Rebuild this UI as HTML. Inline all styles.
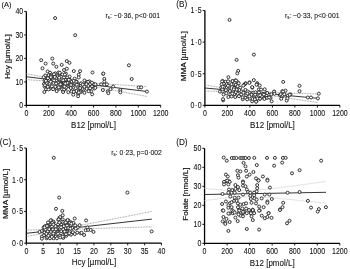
<!DOCTYPE html>
<html><head><meta charset="utf-8"><style>
html,body{margin:0;padding:0;background:#fff;width:350px;height:269px;overflow:hidden}
svg{display:block;will-change:transform}
text{font-family:"Liberation Sans", sans-serif;fill:#111;stroke:#111;stroke-width:0.08px}
</style></head><body>
<svg width="350" height="269" viewBox="0 0 350 269">
<path d="M26.35 11.45V105.4H160.7" fill="none" stroke="#000" stroke-width="1.3"/>
<path d="M24.150000000000002 105.40H26.35" stroke="#000" stroke-width="0.9"/>
<text transform="translate(23.15 108.30) scale(1 1.18)" font-size="7" text-anchor="end">0</text>
<path d="M24.150000000000002 81.91H26.35" stroke="#000" stroke-width="0.9"/>
<text transform="translate(23.15 84.81) scale(1 1.18)" font-size="7" text-anchor="end">10</text>
<path d="M24.150000000000002 58.43H26.35" stroke="#000" stroke-width="0.9"/>
<text transform="translate(23.15 61.33) scale(1 1.18)" font-size="7" text-anchor="end">20</text>
<path d="M24.150000000000002 34.94H26.35" stroke="#000" stroke-width="0.9"/>
<text transform="translate(23.15 37.84) scale(1 1.18)" font-size="7" text-anchor="end">30</text>
<path d="M24.150000000000002 11.45H26.35" stroke="#000" stroke-width="0.9"/>
<text transform="translate(23.15 14.35) scale(1 1.18)" font-size="7" text-anchor="end">40</text>
<path d="M26.35 105.4V107.60000000000001" stroke="#000" stroke-width="0.9"/>
<text transform="translate(26.35 115.90) scale(1 1.18)" font-size="7" text-anchor="middle">0</text>
<path d="M48.74 105.4V107.60000000000001" stroke="#000" stroke-width="0.9"/>
<text transform="translate(48.74 115.90) scale(1 1.18)" font-size="7" text-anchor="middle">200</text>
<path d="M71.13 105.4V107.60000000000001" stroke="#000" stroke-width="0.9"/>
<text transform="translate(71.13 115.90) scale(1 1.18)" font-size="7" text-anchor="middle">400</text>
<path d="M93.53 105.4V107.60000000000001" stroke="#000" stroke-width="0.9"/>
<text transform="translate(93.53 115.90) scale(1 1.18)" font-size="7" text-anchor="middle">600</text>
<path d="M115.92 105.4V107.60000000000001" stroke="#000" stroke-width="0.9"/>
<text transform="translate(115.92 115.90) scale(1 1.18)" font-size="7" text-anchor="middle">800</text>
<path d="M138.31 105.4V107.60000000000001" stroke="#000" stroke-width="0.9"/>
<text transform="translate(138.31 115.90) scale(1 1.18)" font-size="7" text-anchor="middle">1000</text>
<path d="M160.70 105.4V107.60000000000001" stroke="#000" stroke-width="0.9"/>
<text transform="translate(160.70 115.90) scale(1 1.18)" font-size="7" text-anchor="middle">1200</text>
<text transform="translate(93.52 127.70) scale(1 1.2)" font-size="8" text-anchor="middle">B12 [pmol/L]</text>
<text transform="translate(10.25 56.73) rotate(-90) scale(1.19 1)" font-size="6.75" text-anchor="middle" style="stroke-width:0.16px">Hcy [µmol/L]</text>
<text transform="translate(1.60 7.00) scale(1 1.0)" font-size="7.5">(A)</text>
<path d="M204.9 10.5V105.35H339.9" fill="none" stroke="#000" stroke-width="1.3"/>
<path d="M202.70000000000002 105.35H204.9" stroke="#000" stroke-width="0.9"/>
<text transform="translate(201.70 108.25) scale(1 1.18)" font-size="7" text-anchor="end">0<tspan dx="0.5">·</tspan><tspan dx="0.5">0</tspan></text>
<path d="M202.70000000000002 73.73H204.9" stroke="#000" stroke-width="0.9"/>
<text transform="translate(201.70 76.63) scale(1 1.18)" font-size="7" text-anchor="end">0<tspan dx="0.5">·</tspan><tspan dx="0.5">5</tspan></text>
<path d="M202.70000000000002 42.12H204.9" stroke="#000" stroke-width="0.9"/>
<text transform="translate(201.70 45.02) scale(1 1.18)" font-size="7" text-anchor="end">1<tspan dx="0.5">·</tspan><tspan dx="0.5">0</tspan></text>
<path d="M202.70000000000002 10.50H204.9" stroke="#000" stroke-width="0.9"/>
<text transform="translate(201.70 13.40) scale(1 1.18)" font-size="7" text-anchor="end">1<tspan dx="0.5">·</tspan><tspan dx="0.5">5</tspan></text>
<path d="M204.90 105.35V107.55" stroke="#000" stroke-width="0.9"/>
<text transform="translate(204.90 115.85) scale(1 1.18)" font-size="7" text-anchor="middle">0</text>
<path d="M227.40 105.35V107.55" stroke="#000" stroke-width="0.9"/>
<text transform="translate(227.40 115.85) scale(1 1.18)" font-size="7" text-anchor="middle">200</text>
<path d="M249.90 105.35V107.55" stroke="#000" stroke-width="0.9"/>
<text transform="translate(249.90 115.85) scale(1 1.18)" font-size="7" text-anchor="middle">400</text>
<path d="M272.40 105.35V107.55" stroke="#000" stroke-width="0.9"/>
<text transform="translate(272.40 115.85) scale(1 1.18)" font-size="7" text-anchor="middle">600</text>
<path d="M294.90 105.35V107.55" stroke="#000" stroke-width="0.9"/>
<text transform="translate(294.90 115.85) scale(1 1.18)" font-size="7" text-anchor="middle">800</text>
<path d="M317.40 105.35V107.55" stroke="#000" stroke-width="0.9"/>
<text transform="translate(317.40 115.85) scale(1 1.18)" font-size="7" text-anchor="middle">1000</text>
<path d="M339.90 105.35V107.55" stroke="#000" stroke-width="0.9"/>
<text transform="translate(339.90 115.85) scale(1 1.18)" font-size="7" text-anchor="middle">1200</text>
<text transform="translate(272.40 127.65) scale(1 1.2)" font-size="8" text-anchor="middle">B12 [pmol/L]</text>
<text transform="translate(186.30 56.22) rotate(-90) scale(1.215 1)" font-size="6.75" text-anchor="middle" style="stroke-width:0.16px">MMA [µmol/L]</text>
<text transform="translate(176.20 6.90) scale(1 1.0)" font-size="8.2">(B)</text>
<path d="M26.35 148.0V243.15H161.5" fill="none" stroke="#000" stroke-width="1.3"/>
<path d="M24.150000000000002 243.15H26.35" stroke="#000" stroke-width="0.9"/>
<text transform="translate(23.15 246.05) scale(1 1.18)" font-size="7" text-anchor="end">0<tspan dx="0.5">·</tspan><tspan dx="0.5">0</tspan></text>
<path d="M24.150000000000002 211.43H26.35" stroke="#000" stroke-width="0.9"/>
<text transform="translate(23.15 214.33) scale(1 1.18)" font-size="7" text-anchor="end">0<tspan dx="0.5">·</tspan><tspan dx="0.5">5</tspan></text>
<path d="M24.150000000000002 179.72H26.35" stroke="#000" stroke-width="0.9"/>
<text transform="translate(23.15 182.62) scale(1 1.18)" font-size="7" text-anchor="end">1<tspan dx="0.5">·</tspan><tspan dx="0.5">0</tspan></text>
<path d="M24.150000000000002 148.00H26.35" stroke="#000" stroke-width="0.9"/>
<text transform="translate(23.15 150.90) scale(1 1.18)" font-size="7" text-anchor="end">1<tspan dx="0.5">·</tspan><tspan dx="0.5">5</tspan></text>
<path d="M26.35 243.15V245.35" stroke="#000" stroke-width="0.9"/>
<text transform="translate(26.35 253.65) scale(1 1.18)" font-size="7" text-anchor="middle">0</text>
<path d="M43.24 243.15V245.35" stroke="#000" stroke-width="0.9"/>
<text transform="translate(43.24 253.65) scale(1 1.18)" font-size="7" text-anchor="middle">5</text>
<path d="M60.14 243.15V245.35" stroke="#000" stroke-width="0.9"/>
<text transform="translate(60.14 253.65) scale(1 1.18)" font-size="7" text-anchor="middle">10</text>
<path d="M77.03 243.15V245.35" stroke="#000" stroke-width="0.9"/>
<text transform="translate(77.03 253.65) scale(1 1.18)" font-size="7" text-anchor="middle">15</text>
<path d="M93.93 243.15V245.35" stroke="#000" stroke-width="0.9"/>
<text transform="translate(93.93 253.65) scale(1 1.18)" font-size="7" text-anchor="middle">20</text>
<path d="M110.82 243.15V245.35" stroke="#000" stroke-width="0.9"/>
<text transform="translate(110.82 253.65) scale(1 1.18)" font-size="7" text-anchor="middle">25</text>
<path d="M127.71 243.15V245.35" stroke="#000" stroke-width="0.9"/>
<text transform="translate(127.71 253.65) scale(1 1.18)" font-size="7" text-anchor="middle">30</text>
<path d="M144.61 243.15V245.35" stroke="#000" stroke-width="0.9"/>
<text transform="translate(144.61 253.65) scale(1 1.18)" font-size="7" text-anchor="middle">35</text>
<path d="M161.50 243.15V245.35" stroke="#000" stroke-width="0.9"/>
<text transform="translate(161.50 253.65) scale(1 1.18)" font-size="7" text-anchor="middle">40</text>
<text transform="translate(93.92 265.45) scale(1 1.2)" font-size="8" text-anchor="middle">Hcy [µmol/L]</text>
<text transform="translate(7.75 193.88) rotate(-90) scale(1.215 1)" font-size="6.75" text-anchor="middle" style="stroke-width:0.16px">MMA [µmol/L]</text>
<text transform="translate(-0.20 144.60) scale(1 1.0)" font-size="8.2">(C)</text>
<path d="M204.55 148.35V243.35H339.8" fill="none" stroke="#000" stroke-width="1.3"/>
<path d="M202.35000000000002 243.35H204.55" stroke="#000" stroke-width="0.9"/>
<text transform="translate(201.35 246.25) scale(1 1.18)" font-size="7" text-anchor="end">0</text>
<path d="M202.35000000000002 224.35H204.55" stroke="#000" stroke-width="0.9"/>
<text transform="translate(201.35 227.25) scale(1 1.18)" font-size="7" text-anchor="end">10</text>
<path d="M202.35000000000002 205.35H204.55" stroke="#000" stroke-width="0.9"/>
<text transform="translate(201.35 208.25) scale(1 1.18)" font-size="7" text-anchor="end">20</text>
<path d="M202.35000000000002 186.35H204.55" stroke="#000" stroke-width="0.9"/>
<text transform="translate(201.35 189.25) scale(1 1.18)" font-size="7" text-anchor="end">30</text>
<path d="M202.35000000000002 167.35H204.55" stroke="#000" stroke-width="0.9"/>
<text transform="translate(201.35 170.25) scale(1 1.18)" font-size="7" text-anchor="end">40</text>
<path d="M202.35000000000002 148.35H204.55" stroke="#000" stroke-width="0.9"/>
<text transform="translate(201.35 151.25) scale(1 1.18)" font-size="7" text-anchor="end">50</text>
<path d="M204.55 243.35V245.54999999999998" stroke="#000" stroke-width="0.9"/>
<text transform="translate(204.55 253.85) scale(1 1.18)" font-size="7" text-anchor="middle">0</text>
<path d="M227.09 243.35V245.54999999999998" stroke="#000" stroke-width="0.9"/>
<text transform="translate(227.09 253.85) scale(1 1.18)" font-size="7" text-anchor="middle">200</text>
<path d="M249.63 243.35V245.54999999999998" stroke="#000" stroke-width="0.9"/>
<text transform="translate(249.63 253.85) scale(1 1.18)" font-size="7" text-anchor="middle">400</text>
<path d="M272.18 243.35V245.54999999999998" stroke="#000" stroke-width="0.9"/>
<text transform="translate(272.18 253.85) scale(1 1.18)" font-size="7" text-anchor="middle">600</text>
<path d="M294.72 243.35V245.54999999999998" stroke="#000" stroke-width="0.9"/>
<text transform="translate(294.72 253.85) scale(1 1.18)" font-size="7" text-anchor="middle">800</text>
<path d="M317.26 243.35V245.54999999999998" stroke="#000" stroke-width="0.9"/>
<text transform="translate(317.26 253.85) scale(1 1.18)" font-size="7" text-anchor="middle">1000</text>
<path d="M339.80 243.35V245.54999999999998" stroke="#000" stroke-width="0.9"/>
<text transform="translate(339.80 253.85) scale(1 1.18)" font-size="7" text-anchor="middle">1200</text>
<text transform="translate(272.18 265.65) scale(1 1.2)" font-size="8" text-anchor="middle">B12 [pmol/L]</text>
<text transform="translate(188.45 194.15) rotate(-90) scale(1.19 1)" font-size="6.75" text-anchor="middle" style="stroke-width:0.16px">Folate [nmol/L]</text>
<text transform="translate(176.20 144.60) scale(1 1.0)" font-size="8.2">(D)</text>
<g transform="translate(105.6 17.9) scale(1 1.12)"><text font-size="6.8">r<tspan font-size="4.2" dy="0.9">s</tspan><tspan dy="-0.9">: −0<tspan opacity="0.45">·</tspan>36, p&lt;0<tspan opacity="0.45">·</tspan>001</tspan></text></g>
<g transform="translate(284.9 17.7) scale(1 1.12)"><text font-size="6.8">r<tspan font-size="4.2" dy="0.9">s</tspan><tspan dy="-0.9">: −0<tspan opacity="0.45">·</tspan>33, p&lt;0<tspan opacity="0.45">·</tspan>001</tspan></text></g>
<g transform="translate(111.3 155.0) scale(1 1.12)"><text font-size="6.8">r<tspan font-size="4.2" dy="0.9">s</tspan><tspan dy="-0.9">: 0<tspan opacity="0.45">·</tspan>23, p=0<tspan opacity="0.45">·</tspan>002</tspan></text></g>
<path d="M26.20 73.75 L29.22 74.30 L32.24 74.84 L35.26 75.38 L38.28 75.91 L41.30 76.44 L44.32 76.97 L47.34 77.49 L50.36 78.00 L53.38 78.50 L56.40 78.99 L59.42 79.47 L62.44 79.92 L65.46 80.35 L68.48 80.75 L71.50 81.12 L74.52 81.46 L77.54 81.77 L80.56 82.06 L83.58 82.33 L86.60 82.58 L89.62 82.81 L92.64 83.04 L95.66 83.26 L98.68 83.47 L101.70 83.68 L104.72 83.89 L107.74 84.09 L110.76 84.29 L113.78 84.49 L116.80 84.68 L119.82 84.88 L122.84 85.07 L125.86 85.26 L128.88 85.45 L131.90 85.64 L134.92 85.83 L137.94 86.02 L140.96 86.21 L143.98 86.40 L147.00 86.58" fill="none" stroke="#808080" stroke-width="0.75" stroke-dasharray="0.9 0.7"/>
<path d="M26.20 79.65 L29.22 79.84 L32.24 80.04 L35.26 80.24 L38.28 80.45 L41.30 80.66 L44.32 80.87 L47.34 81.09 L50.36 81.32 L53.38 81.56 L56.40 81.81 L59.42 82.07 L62.44 82.36 L65.46 82.67 L68.48 83.01 L71.50 83.38 L74.52 83.78 L77.54 84.21 L80.56 84.66 L83.58 85.13 L86.60 85.62 L89.62 86.13 L92.64 86.64 L95.66 87.16 L98.68 87.69 L101.70 88.22 L104.72 88.75 L107.74 89.29 L110.76 89.83 L113.78 90.37 L116.80 90.92 L119.82 91.46 L122.84 92.01 L125.86 92.56 L128.88 93.11 L131.90 93.66 L134.92 94.21 L137.94 94.76 L140.96 95.31 L143.98 95.86 L147.00 96.42" fill="none" stroke="#808080" stroke-width="0.75" stroke-dasharray="0.9 0.7"/>
<path d="M26.2 76.7L147.0 91.5" stroke="#2a2a2a" stroke-width="0.95" fill="none"/>
<path d="M204.90 85.04 L207.73 85.46 L210.56 85.88 L213.38 86.30 L216.21 86.71 L219.04 87.13 L221.87 87.54 L224.69 87.94 L227.52 88.35 L230.35 88.74 L233.18 89.13 L236.00 89.51 L238.83 89.87 L241.66 90.22 L244.49 90.55 L247.31 90.85 L250.14 91.12 L252.97 91.36 L255.80 91.57 L258.62 91.76 L261.45 91.92 L264.28 92.07 L267.11 92.21 L269.93 92.33 L272.76 92.45 L275.59 92.57 L278.42 92.67 L281.24 92.78 L284.07 92.88 L286.90 92.98 L289.73 93.07 L292.55 93.17 L295.38 93.26 L298.21 93.35 L301.03 93.44 L303.86 93.53 L306.69 93.62 L309.52 93.71 L312.35 93.80 L315.17 93.89 L318.00 93.98" fill="none" stroke="#808080" stroke-width="0.75" stroke-dasharray="0.9 0.7"/>
<path d="M204.90 90.96 L207.73 91.06 L210.56 91.15 L213.38 91.25 L216.21 91.35 L219.04 91.45 L221.87 91.55 L224.69 91.66 L227.52 91.77 L230.35 91.89 L233.18 92.02 L236.00 92.16 L238.83 92.31 L241.66 92.47 L244.49 92.66 L247.31 92.88 L250.14 93.12 L252.97 93.39 L255.80 93.70 L258.62 94.03 L261.45 94.38 L264.28 94.74 L267.11 95.12 L269.93 95.51 L272.76 95.91 L275.59 96.31 L278.42 96.72 L281.24 97.13 L284.07 97.54 L286.90 97.96 L289.73 98.38 L292.55 98.80 L295.38 99.22 L298.21 99.64 L301.03 100.07 L303.86 100.49 L306.69 100.92 L309.52 101.34 L312.35 101.77 L315.17 102.20 L318.00 102.62" fill="none" stroke="#808080" stroke-width="0.75" stroke-dasharray="0.9 0.7"/>
<path d="M204.9 88.0L318.0 98.3" stroke="#2a2a2a" stroke-width="0.95" fill="none"/>
<path d="M26.50 230.08 L29.64 229.97 L32.77 229.86 L35.91 229.75 L39.04 229.63 L42.17 229.51 L45.31 229.37 L48.45 229.22 L51.58 229.05 L54.72 228.84 L57.85 228.60 L60.98 228.30 L64.12 227.94 L67.25 227.51 L70.39 227.04 L73.53 226.52 L76.66 225.98 L79.80 225.42 L82.93 224.84 L86.06 224.25 L89.20 223.66 L92.34 223.06 L95.47 222.46 L98.61 221.86 L101.74 221.25 L104.88 220.64 L108.01 220.03 L111.15 219.42 L114.28 218.81 L117.42 218.19 L120.55 217.58 L123.69 216.96 L126.82 216.35 L129.95 215.73 L133.09 215.12 L136.22 214.50 L139.36 213.88 L142.50 213.26 L145.63 212.65 L148.77 212.03 L151.90 211.41" fill="none" stroke="#808080" stroke-width="0.75" stroke-dasharray="0.9 0.7"/>
<path d="M26.50 236.52 L29.64 235.92 L32.77 235.32 L35.91 234.72 L39.04 234.13 L42.17 233.54 L45.31 232.97 L48.45 232.41 L51.58 231.87 L54.72 231.37 L57.85 230.90 L60.98 230.49 L64.12 230.14 L67.25 229.86 L70.39 229.62 L73.53 229.43 L76.66 229.26 L79.80 229.11 L82.93 228.98 L86.06 228.86 L89.20 228.74 L92.34 228.63 L95.47 228.52 L98.61 228.41 L101.74 228.31 L104.88 228.21 L108.01 228.11 L111.15 228.01 L114.28 227.91 L117.42 227.82 L120.55 227.72 L123.69 227.63 L126.82 227.53 L129.95 227.44 L133.09 227.34 L136.22 227.25 L139.36 227.16 L142.50 227.07 L145.63 226.97 L148.77 226.88 L151.90 226.79" fill="none" stroke="#808080" stroke-width="0.75" stroke-dasharray="0.9 0.7"/>
<path d="M26.5 233.3L151.9 219.1" stroke="#2a2a2a" stroke-width="0.95" fill="none"/>
<path d="M204.60 188.45 L207.63 188.73 L210.67 189.00 L213.70 189.26 L216.74 189.51 L219.78 189.75 L222.81 189.97 L225.84 190.17 L228.88 190.34 L231.91 190.49 L234.95 190.61 L237.99 190.68 L241.02 190.72 L244.06 190.70 L247.09 190.64 L250.12 190.52 L253.16 190.36 L256.19 190.16 L259.23 189.92 L262.26 189.65 L265.30 189.36 L268.33 189.04 L271.37 188.70 L274.40 188.35 L277.44 187.99 L280.48 187.61 L283.51 187.23 L286.55 186.84 L289.58 186.44 L292.62 186.04 L295.65 185.64 L298.69 185.23 L301.72 184.81 L304.75 184.40 L307.79 183.98 L310.82 183.56 L313.86 183.13 L316.89 182.71 L319.93 182.28 L322.97 181.85 L326.00 181.42" fill="none" stroke="#d8d8d8" stroke-width="0.75"/>
<path d="M204.60 200.55 L207.63 200.16 L210.67 199.78 L213.70 199.41 L216.74 199.05 L219.78 198.70 L222.81 198.37 L225.84 198.06 L228.88 197.78 L231.91 197.52 L234.95 197.29 L237.99 197.11 L241.02 196.96 L244.06 196.87 L247.09 196.82 L250.12 196.83 L253.16 196.88 L256.19 196.97 L259.23 197.10 L262.26 197.26 L265.30 197.44 L268.33 197.65 L271.37 197.88 L274.40 198.12 L277.44 198.37 L280.48 198.64 L283.51 198.91 L286.55 199.19 L289.58 199.48 L292.62 199.77 L295.65 200.06 L298.69 200.36 L301.72 200.67 L304.75 200.97 L307.79 201.28 L310.82 201.59 L313.86 201.91 L316.89 202.22 L319.93 202.54 L322.97 202.86 L326.00 203.18" fill="none" stroke="#d8d8d8" stroke-width="0.75"/>
<path d="M204.6 194.5L326.0 192.3" stroke="#2a2a2a" stroke-width="0.95" fill="none"/>
<g fill="#fff" stroke="#2a2a2a" stroke-width="0.95">
<circle cx="55.1" cy="18.1" r="1.5"/>
<circle cx="75.2" cy="35.2" r="1.5"/>
<circle cx="41.2" cy="60.2" r="1.5"/>
<circle cx="52.3" cy="58.6" r="1.5"/>
<circle cx="45.6" cy="63.6" r="1.5"/>
<circle cx="53.2" cy="63.6" r="1.5"/>
<circle cx="42.5" cy="68.3" r="1.5"/>
<circle cx="56.4" cy="66.8" r="1.5"/>
<circle cx="61.7" cy="64.9" r="1.5"/>
<circle cx="66.8" cy="61.1" r="1.5"/>
<circle cx="69.5" cy="62.8" r="1.5"/>
<circle cx="64.0" cy="70.0" r="1.5"/>
<circle cx="66.8" cy="68.7" r="1.5"/>
<circle cx="73.8" cy="71.1" r="1.5"/>
<circle cx="80.1" cy="71.2" r="1.5"/>
<circle cx="78.7" cy="74.7" r="1.5"/>
<circle cx="78.7" cy="77.4" r="1.5"/>
<circle cx="69.6" cy="76.5" r="1.5"/>
<circle cx="74.6" cy="78.7" r="1.5"/>
<circle cx="92.5" cy="72.5" r="1.5"/>
<circle cx="103.2" cy="73.7" r="1.5"/>
<circle cx="128.9" cy="65.3" r="1.5"/>
<circle cx="131.7" cy="79.0" r="1.5"/>
<circle cx="47.6" cy="71.4" r="1.5"/>
<circle cx="50.1" cy="72.8" r="1.5"/>
<circle cx="45.2" cy="75.5" r="1.5"/>
<circle cx="48.8" cy="75.2" r="1.5"/>
<circle cx="51.6" cy="74.6" r="1.5"/>
<circle cx="55.2" cy="73.4" r="1.5"/>
<circle cx="59.4" cy="73.5" r="1.5"/>
<circle cx="62.5" cy="74.5" r="1.5"/>
<circle cx="65.9" cy="73.6" r="1.5"/>
<circle cx="43.6" cy="77.2" r="1.5"/>
<circle cx="47.1" cy="78.3" r="1.5"/>
<circle cx="50.7" cy="77.5" r="1.5"/>
<circle cx="53.4" cy="76.3" r="1.5"/>
<circle cx="56.6" cy="77.4" r="1.5"/>
<circle cx="60.9" cy="76.8" r="1.5"/>
<circle cx="64.0" cy="77.3" r="1.5"/>
<circle cx="67.2" cy="77.6" r="1.5"/>
<circle cx="44.7" cy="80.3" r="1.5"/>
<circle cx="49.2" cy="80.1" r="1.5"/>
<circle cx="52.5" cy="80.2" r="1.5"/>
<circle cx="56.2" cy="80.3" r="1.5"/>
<circle cx="59.4" cy="79.4" r="1.5"/>
<circle cx="63.2" cy="80.3" r="1.5"/>
<circle cx="66.1" cy="79.7" r="1.5"/>
<circle cx="68.9" cy="80.5" r="1.5"/>
<circle cx="44.0" cy="83.9" r="1.5"/>
<circle cx="46.7" cy="82.9" r="1.5"/>
<circle cx="49.9" cy="83.7" r="1.5"/>
<circle cx="53.5" cy="82.8" r="1.5"/>
<circle cx="56.5" cy="83.9" r="1.5"/>
<circle cx="60.0" cy="82.9" r="1.5"/>
<circle cx="63.7" cy="83.5" r="1.5"/>
<circle cx="66.9" cy="83.0" r="1.5"/>
<circle cx="44.5" cy="86.5" r="1.5"/>
<circle cx="47.7" cy="86.6" r="1.5"/>
<circle cx="51.9" cy="86.3" r="1.5"/>
<circle cx="55.4" cy="86.8" r="1.5"/>
<circle cx="59.0" cy="87.3" r="1.5"/>
<circle cx="62.4" cy="85.8" r="1.5"/>
<circle cx="65.5" cy="85.7" r="1.5"/>
<circle cx="69.2" cy="86.3" r="1.5"/>
<circle cx="46.0" cy="89.3" r="1.5"/>
<circle cx="49.7" cy="88.9" r="1.5"/>
<circle cx="53.1" cy="89.2" r="1.5"/>
<circle cx="57.1" cy="89.0" r="1.5"/>
<circle cx="62.1" cy="89.2" r="1.5"/>
<circle cx="65.3" cy="89.2" r="1.5"/>
<circle cx="44.3" cy="92.0" r="1.5"/>
<circle cx="56.7" cy="91.1" r="1.5"/>
<circle cx="63.1" cy="92.0" r="1.5"/>
<circle cx="68.3" cy="92.2" r="1.5"/>
<circle cx="68.1" cy="79.9" r="1.5"/>
<circle cx="71.6" cy="81.4" r="1.5"/>
<circle cx="76.6" cy="81.6" r="1.5"/>
<circle cx="81.1" cy="83.4" r="1.5"/>
<circle cx="86.0" cy="83.6" r="1.5"/>
<circle cx="90.1" cy="84.0" r="1.5"/>
<circle cx="84.5" cy="80.5" r="1.5"/>
<circle cx="89.4" cy="81.4" r="1.5"/>
<circle cx="93.9" cy="84.1" r="1.5"/>
<circle cx="69.7" cy="85.1" r="1.5"/>
<circle cx="73.0" cy="85.2" r="1.5"/>
<circle cx="78.2" cy="84.8" r="1.5"/>
<circle cx="80.7" cy="86.2" r="1.5"/>
<circle cx="84.3" cy="86.7" r="1.5"/>
<circle cx="88.3" cy="85.8" r="1.5"/>
<circle cx="91.9" cy="86.4" r="1.5"/>
<circle cx="95.7" cy="85.4" r="1.5"/>
<circle cx="71.9" cy="89.4" r="1.5"/>
<circle cx="75.7" cy="88.2" r="1.5"/>
<circle cx="79.5" cy="88.5" r="1.5"/>
<circle cx="82.5" cy="89.4" r="1.5"/>
<circle cx="86.7" cy="88.9" r="1.5"/>
<circle cx="90.1" cy="88.2" r="1.5"/>
<circle cx="94.3" cy="88.5" r="1.5"/>
<circle cx="76.6" cy="91.5" r="1.5"/>
<circle cx="83.4" cy="91.4" r="1.5"/>
<circle cx="91.2" cy="91.4" r="1.5"/>
<circle cx="71.6" cy="91.4" r="1.5"/>
<circle cx="73.3" cy="94.7" r="1.5"/>
<circle cx="78.1" cy="93.8" r="1.5"/>
<circle cx="78.1" cy="96.2" r="1.5"/>
<circle cx="84.4" cy="92.8" r="1.5"/>
<circle cx="88.6" cy="91.2" r="1.5"/>
<circle cx="92.2" cy="94.3" r="1.5"/>
<circle cx="103.4" cy="73.6" r="1.5"/>
<circle cx="104.3" cy="78.9" r="1.5"/>
<circle cx="104.3" cy="81.6" r="1.5"/>
<circle cx="101.1" cy="84.3" r="1.5"/>
<circle cx="104.3" cy="84.7" r="1.5"/>
<circle cx="106.9" cy="84.3" r="1.5"/>
<circle cx="95.3" cy="84.3" r="1.5"/>
<circle cx="95.3" cy="87.9" r="1.5"/>
<circle cx="102.9" cy="90.1" r="1.5"/>
<circle cx="107.8" cy="91.4" r="1.5"/>
<circle cx="110.5" cy="89.2" r="1.5"/>
<circle cx="113.2" cy="86.5" r="1.5"/>
<circle cx="108.3" cy="93.2" r="1.5"/>
<circle cx="120.3" cy="90.1" r="1.5"/>
<circle cx="120.3" cy="92.3" r="1.5"/>
<circle cx="138.7" cy="87.4" r="1.5"/>
<circle cx="141.2" cy="87.4" r="1.5"/>
<circle cx="146.9" cy="91.6" r="1.5"/>
<circle cx="56.1" cy="83.5" r="1.5"/>
<circle cx="62.9" cy="84.9" r="1.5"/>
<circle cx="57.2" cy="76.4" r="1.5"/>
<circle cx="86.7" cy="82.0" r="1.5"/>
<circle cx="76.4" cy="91.0" r="1.5"/>
<circle cx="70.7" cy="88.0" r="1.5"/>
<circle cx="82.7" cy="84.6" r="1.5"/>
<circle cx="88.1" cy="81.9" r="1.5"/>
<circle cx="80.7" cy="91.2" r="1.5"/>
<circle cx="80.4" cy="92.2" r="1.5"/>
<circle cx="64.1" cy="89.4" r="1.5"/>
<circle cx="50.9" cy="76.0" r="1.5"/>
<circle cx="69.9" cy="79.9" r="1.5"/>
<circle cx="61.9" cy="84.5" r="1.5"/>
<circle cx="73.8" cy="91.8" r="1.5"/>
<circle cx="78.8" cy="92.4" r="1.5"/>
<circle cx="90.1" cy="84.1" r="1.5"/>
<circle cx="86.4" cy="84.2" r="1.5"/>
<circle cx="58.5" cy="72.5" r="1.5"/>
<circle cx="48.5" cy="89.4" r="1.5"/>
<circle cx="64.9" cy="74.5" r="1.5"/>
<circle cx="59.0" cy="88.7" r="1.5"/>
<circle cx="59.8" cy="72.8" r="1.5"/>
<circle cx="54.1" cy="80.4" r="1.5"/>
<circle cx="67.5" cy="83.0" r="1.5"/>
<circle cx="76.8" cy="84.7" r="1.5"/>
<circle cx="72.5" cy="85.3" r="1.5"/>
<circle cx="92.0" cy="82.7" r="1.5"/>
<circle cx="66.0" cy="87.6" r="1.5"/>
<circle cx="56.1" cy="77.9" r="1.5"/>
<circle cx="65.2" cy="84.3" r="1.5"/>
<circle cx="45.0" cy="85.2" r="1.5"/>
<circle cx="76.0" cy="81.7" r="1.5"/>
<circle cx="80.1" cy="88.0" r="1.5"/>
<circle cx="59.0" cy="82.5" r="1.5"/>
<circle cx="73.7" cy="80.9" r="1.5"/>
<circle cx="60.7" cy="83.0" r="1.5"/>
<circle cx="50.7" cy="81.7" r="1.5"/>
<circle cx="64.5" cy="86.5" r="1.5"/>
<circle cx="47.9" cy="78.2" r="1.5"/>
<circle cx="47.8" cy="86.8" r="1.5"/>
<circle cx="65.3" cy="83.5" r="1.5"/>
<circle cx="50.9" cy="77.1" r="1.5"/>
<circle cx="45.9" cy="80.9" r="1.5"/>
<circle cx="58.7" cy="87.3" r="1.5"/>
<circle cx="61.1" cy="83.9" r="1.5"/>
<circle cx="60.5" cy="84.3" r="1.5"/>
<circle cx="59.2" cy="77.7" r="1.5"/>
<circle cx="71.0" cy="85.0" r="1.5"/>
<circle cx="54.8" cy="76.9" r="1.5"/>
<circle cx="54.0" cy="74.2" r="1.5"/>
<circle cx="68.8" cy="79.8" r="1.5"/>
</g>
<g fill="#fff" stroke="#2a2a2a" stroke-width="0.95">
<circle cx="229.5" cy="19.9" r="1.5"/>
<circle cx="253.9" cy="54.6" r="1.5"/>
<circle cx="236.6" cy="59.9" r="1.5"/>
<circle cx="238.2" cy="70.9" r="1.5"/>
<circle cx="237.3" cy="73.4" r="1.5"/>
<circle cx="228.4" cy="77.2" r="1.5"/>
<circle cx="222.7" cy="81.0" r="1.5"/>
<circle cx="225.4" cy="82.6" r="1.5"/>
<circle cx="232.5" cy="81.0" r="1.5"/>
<circle cx="235.4" cy="80.4" r="1.5"/>
<circle cx="237.9" cy="82.4" r="1.5"/>
<circle cx="245.5" cy="83.2" r="1.5"/>
<circle cx="253.8" cy="80.1" r="1.5"/>
<circle cx="257.2" cy="83.2" r="1.5"/>
<circle cx="283.2" cy="81.9" r="1.5"/>
<circle cx="249.6" cy="82.3" r="1.5"/>
<circle cx="223.2" cy="100.4" r="1.5"/>
<circle cx="257.2" cy="84.3" r="1.5"/>
<circle cx="259.7" cy="85.5" r="1.5"/>
<circle cx="252.3" cy="87.7" r="1.5"/>
<circle cx="264.7" cy="89.3" r="1.5"/>
<circle cx="274.2" cy="91.8" r="1.5"/>
<circle cx="271.6" cy="101.3" r="1.5"/>
<circle cx="256.5" cy="101.3" r="1.5"/>
<circle cx="252.1" cy="101.3" r="1.5"/>
<circle cx="282.3" cy="91.2" r="1.5"/>
<circle cx="285.5" cy="90.6" r="1.5"/>
<circle cx="279.8" cy="95.0" r="1.5"/>
<circle cx="281.7" cy="96.9" r="1.5"/>
<circle cx="287.4" cy="96.9" r="1.5"/>
<circle cx="286.7" cy="100.6" r="1.5"/>
<circle cx="290.5" cy="94.4" r="1.5"/>
<circle cx="299.5" cy="85.8" r="1.5"/>
<circle cx="299.5" cy="91.2" r="1.5"/>
<circle cx="307.8" cy="97.5" r="1.5"/>
<circle cx="311.0" cy="97.5" r="1.5"/>
<circle cx="318.8" cy="93.7" r="1.5"/>
<circle cx="317.9" cy="98.4" r="1.5"/>
<circle cx="222.1" cy="81.4" r="1.5"/>
<circle cx="225.7" cy="81.7" r="1.5"/>
<circle cx="232.5" cy="81.1" r="1.5"/>
<circle cx="236.0" cy="80.5" r="1.5"/>
<circle cx="223.8" cy="83.8" r="1.5"/>
<circle cx="226.8" cy="84.2" r="1.5"/>
<circle cx="233.0" cy="84.3" r="1.5"/>
<circle cx="235.8" cy="84.8" r="1.5"/>
<circle cx="221.3" cy="87.6" r="1.5"/>
<circle cx="224.1" cy="87.0" r="1.5"/>
<circle cx="229.1" cy="87.5" r="1.5"/>
<circle cx="234.1" cy="87.8" r="1.5"/>
<circle cx="237.0" cy="87.1" r="1.5"/>
<circle cx="240.2" cy="87.7" r="1.5"/>
<circle cx="219.9" cy="91.6" r="1.5"/>
<circle cx="222.7" cy="91.4" r="1.5"/>
<circle cx="225.9" cy="90.1" r="1.5"/>
<circle cx="229.9" cy="91.0" r="1.5"/>
<circle cx="233.1" cy="90.8" r="1.5"/>
<circle cx="236.3" cy="90.9" r="1.5"/>
<circle cx="239.4" cy="90.1" r="1.5"/>
<circle cx="241.5" cy="91.5" r="1.5"/>
<circle cx="223.6" cy="94.5" r="1.5"/>
<circle cx="226.3" cy="93.3" r="1.5"/>
<circle cx="230.3" cy="94.3" r="1.5"/>
<circle cx="234.4" cy="94.1" r="1.5"/>
<circle cx="237.6" cy="93.6" r="1.5"/>
<circle cx="241.2" cy="94.4" r="1.5"/>
<circle cx="228.4" cy="97.0" r="1.5"/>
<circle cx="231.6" cy="96.4" r="1.5"/>
<circle cx="235.2" cy="97.0" r="1.5"/>
<circle cx="239.0" cy="96.2" r="1.5"/>
<circle cx="223.0" cy="99.2" r="1.5"/>
<circle cx="242.7" cy="99.2" r="1.5"/>
<circle cx="245.4" cy="83.8" r="1.5"/>
<circle cx="249.4" cy="82.9" r="1.5"/>
<circle cx="256.5" cy="84.7" r="1.5"/>
<circle cx="252.2" cy="87.1" r="1.5"/>
<circle cx="258.9" cy="89.4" r="1.5"/>
<circle cx="258.9" cy="92.4" r="1.5"/>
<circle cx="245.4" cy="89.9" r="1.5"/>
<circle cx="249.2" cy="92.6" r="1.5"/>
<circle cx="243.4" cy="92.7" r="1.5"/>
<circle cx="246.1" cy="95.1" r="1.5"/>
<circle cx="242.8" cy="97.4" r="1.5"/>
<circle cx="245.5" cy="97.9" r="1.5"/>
<circle cx="253.3" cy="92.7" r="1.5"/>
<circle cx="255.8" cy="94.2" r="1.5"/>
<circle cx="253.3" cy="95.6" r="1.5"/>
<circle cx="256.7" cy="97.0" r="1.5"/>
<circle cx="260.2" cy="95.2" r="1.5"/>
<circle cx="263.0" cy="93.9" r="1.5"/>
<circle cx="265.9" cy="93.6" r="1.5"/>
<circle cx="266.7" cy="96.4" r="1.5"/>
<circle cx="263.9" cy="97.9" r="1.5"/>
<circle cx="259.9" cy="98.7" r="1.5"/>
<circle cx="256.1" cy="99.9" r="1.5"/>
<circle cx="252.6" cy="99.1" r="1.5"/>
<circle cx="249.7" cy="98.5" r="1.5"/>
<circle cx="247.1" cy="99.4" r="1.5"/>
<circle cx="256.1" cy="101.7" r="1.5"/>
<circle cx="266.9" cy="92.8" r="1.5"/>
<circle cx="263.9" cy="94.6" r="1.5"/>
<circle cx="266.8" cy="95.5" r="1.5"/>
<circle cx="269.1" cy="94.7" r="1.5"/>
<circle cx="271.4" cy="94.3" r="1.5"/>
<circle cx="264.4" cy="98.9" r="1.5"/>
<circle cx="267.1" cy="97.9" r="1.5"/>
<circle cx="270.5" cy="97.9" r="1.5"/>
<circle cx="274.1" cy="91.6" r="1.5"/>
<circle cx="274.5" cy="93.8" r="1.5"/>
<circle cx="283.0" cy="91.6" r="1.5"/>
<circle cx="280.8" cy="94.3" r="1.5"/>
<circle cx="283.0" cy="95.6" r="1.5"/>
<circle cx="281.2" cy="98.8" r="1.5"/>
<circle cx="284.3" cy="94.3" r="1.5"/>
<circle cx="287.9" cy="95.6" r="1.5"/>
<circle cx="287.4" cy="98.3" r="1.5"/>
<circle cx="289.7" cy="94.7" r="1.5"/>
<circle cx="251.5" cy="94.8" r="1.5"/>
<circle cx="260.0" cy="98.8" r="1.5"/>
<circle cx="257.3" cy="98.4" r="1.5"/>
<circle cx="222.4" cy="89.3" r="1.5"/>
<circle cx="267.2" cy="93.0" r="1.5"/>
<circle cx="244.0" cy="84.9" r="1.5"/>
<circle cx="247.6" cy="91.5" r="1.5"/>
<circle cx="221.6" cy="84.3" r="1.5"/>
<circle cx="231.3" cy="84.3" r="1.5"/>
<circle cx="269.1" cy="97.4" r="1.5"/>
<circle cx="247.4" cy="93.6" r="1.5"/>
<circle cx="254.8" cy="99.3" r="1.5"/>
<circle cx="238.7" cy="83.3" r="1.5"/>
<circle cx="228.1" cy="81.3" r="1.5"/>
<circle cx="235.8" cy="92.1" r="1.5"/>
<circle cx="237.6" cy="86.2" r="1.5"/>
<circle cx="261.1" cy="89.6" r="1.5"/>
<circle cx="236.5" cy="89.6" r="1.5"/>
<circle cx="232.4" cy="93.6" r="1.5"/>
<circle cx="249.4" cy="96.4" r="1.5"/>
<circle cx="229.4" cy="85.9" r="1.5"/>
<circle cx="227.9" cy="85.8" r="1.5"/>
<circle cx="243.3" cy="85.6" r="1.5"/>
<circle cx="233.8" cy="89.3" r="1.5"/>
<circle cx="255.5" cy="92.3" r="1.5"/>
<circle cx="222.6" cy="86.7" r="1.5"/>
<circle cx="254.4" cy="95.7" r="1.5"/>
<circle cx="255.1" cy="94.7" r="1.5"/>
</g>
<g fill="#fff" stroke="#2a2a2a" stroke-width="0.95">
<circle cx="53.8" cy="157.8" r="1.5"/>
<circle cx="59.2" cy="197.6" r="1.5"/>
<circle cx="56.0" cy="208.8" r="1.5"/>
<circle cx="62.3" cy="210.9" r="1.5"/>
<circle cx="62.7" cy="215.3" r="1.5"/>
<circle cx="59.5" cy="217.8" r="1.5"/>
<circle cx="58.2" cy="219.7" r="1.5"/>
<circle cx="62.7" cy="219.4" r="1.5"/>
<circle cx="59.6" cy="222.6" r="1.5"/>
<circle cx="62.7" cy="221.8" r="1.5"/>
<circle cx="68.4" cy="220.4" r="1.5"/>
<circle cx="66.7" cy="222.4" r="1.5"/>
<circle cx="70.9" cy="222.3" r="1.5"/>
<circle cx="74.7" cy="218.5" r="1.5"/>
<circle cx="86.1" cy="220.4" r="1.5"/>
<circle cx="51.3" cy="220.4" r="1.5"/>
<circle cx="53.7" cy="222.5" r="1.5"/>
<circle cx="127.4" cy="192.6" r="1.5"/>
<circle cx="151.6" cy="231.4" r="1.5"/>
<circle cx="60.1" cy="217.1" r="1.5"/>
<circle cx="58.8" cy="219.4" r="1.5"/>
<circle cx="60.6" cy="221.5" r="1.5"/>
<circle cx="50.7" cy="220.3" r="1.5"/>
<circle cx="53.3" cy="221.7" r="1.5"/>
<circle cx="48.0" cy="222.5" r="1.5"/>
<circle cx="66.8" cy="220.7" r="1.5"/>
<circle cx="68.8" cy="223.7" r="1.5"/>
<circle cx="65.5" cy="223.2" r="1.5"/>
<circle cx="47.0" cy="225.5" r="1.5"/>
<circle cx="50.6" cy="224.7" r="1.5"/>
<circle cx="53.9" cy="225.0" r="1.5"/>
<circle cx="58.1" cy="224.4" r="1.5"/>
<circle cx="61.2" cy="224.9" r="1.5"/>
<circle cx="65.2" cy="225.9" r="1.5"/>
<circle cx="68.3" cy="226.3" r="1.5"/>
<circle cx="43.6" cy="227.4" r="1.5"/>
<circle cx="47.0" cy="228.1" r="1.5"/>
<circle cx="51.0" cy="227.1" r="1.5"/>
<circle cx="54.4" cy="227.6" r="1.5"/>
<circle cx="58.9" cy="227.3" r="1.5"/>
<circle cx="62.6" cy="228.2" r="1.5"/>
<circle cx="65.9" cy="228.2" r="1.5"/>
<circle cx="68.9" cy="228.5" r="1.5"/>
<circle cx="41.8" cy="231.0" r="1.5"/>
<circle cx="45.2" cy="230.4" r="1.5"/>
<circle cx="49.0" cy="230.3" r="1.5"/>
<circle cx="52.2" cy="231.3" r="1.5"/>
<circle cx="56.0" cy="230.8" r="1.5"/>
<circle cx="59.9" cy="230.0" r="1.5"/>
<circle cx="63.7" cy="231.0" r="1.5"/>
<circle cx="66.9" cy="231.5" r="1.5"/>
<circle cx="39.5" cy="232.0" r="1.5"/>
<circle cx="41.9" cy="236.6" r="1.5"/>
<circle cx="41.9" cy="238.7" r="1.5"/>
<circle cx="44.7" cy="232.6" r="1.5"/>
<circle cx="47.7" cy="231.4" r="1.5"/>
<circle cx="50.9" cy="232.0" r="1.5"/>
<circle cx="54.2" cy="231.5" r="1.5"/>
<circle cx="57.4" cy="232.4" r="1.5"/>
<circle cx="61.2" cy="231.1" r="1.5"/>
<circle cx="64.7" cy="232.7" r="1.5"/>
<circle cx="44.0" cy="235.3" r="1.5"/>
<circle cx="46.6" cy="236.1" r="1.5"/>
<circle cx="49.7" cy="235.4" r="1.5"/>
<circle cx="53.1" cy="235.6" r="1.5"/>
<circle cx="55.8" cy="236.1" r="1.5"/>
<circle cx="60.0" cy="235.6" r="1.5"/>
<circle cx="62.8" cy="235.2" r="1.5"/>
<circle cx="66.2" cy="235.8" r="1.5"/>
<circle cx="46.6" cy="238.3" r="1.5"/>
<circle cx="50.0" cy="238.3" r="1.5"/>
<circle cx="53.4" cy="238.3" r="1.5"/>
<circle cx="56.9" cy="238.3" r="1.5"/>
<circle cx="60.3" cy="237.4" r="1.5"/>
<circle cx="63.3" cy="237.9" r="1.5"/>
<circle cx="67.6" cy="220.2" r="1.5"/>
<circle cx="65.7" cy="222.4" r="1.5"/>
<circle cx="69.6" cy="222.9" r="1.5"/>
<circle cx="73.4" cy="222.9" r="1.5"/>
<circle cx="79.6" cy="225.2" r="1.5"/>
<circle cx="67.0" cy="225.6" r="1.5"/>
<circle cx="70.9" cy="225.3" r="1.5"/>
<circle cx="75.2" cy="225.4" r="1.5"/>
<circle cx="77.6" cy="227.6" r="1.5"/>
<circle cx="68.3" cy="228.1" r="1.5"/>
<circle cx="72.2" cy="227.9" r="1.5"/>
<circle cx="75.8" cy="228.6" r="1.5"/>
<circle cx="87.4" cy="227.4" r="1.5"/>
<circle cx="85.7" cy="230.3" r="1.5"/>
<circle cx="88.2" cy="229.9" r="1.5"/>
<circle cx="90.7" cy="229.9" r="1.5"/>
<circle cx="93.5" cy="231.9" r="1.5"/>
<circle cx="65.5" cy="231.7" r="1.5"/>
<circle cx="69.7" cy="231.3" r="1.5"/>
<circle cx="72.9" cy="232.2" r="1.5"/>
<circle cx="77.2" cy="232.6" r="1.5"/>
<circle cx="80.5" cy="233.2" r="1.5"/>
<circle cx="84.1" cy="235.0" r="1.5"/>
<circle cx="67.5" cy="234.4" r="1.5"/>
<circle cx="70.9" cy="234.7" r="1.5"/>
<circle cx="74.8" cy="234.0" r="1.5"/>
<circle cx="81.6" cy="232.8" r="1.5"/>
<circle cx="45.5" cy="229.3" r="1.5"/>
<circle cx="49.2" cy="229.2" r="1.5"/>
<circle cx="52.8" cy="229.3" r="1.5"/>
<circle cx="55.8" cy="229.3" r="1.5"/>
<circle cx="60.0" cy="228.8" r="1.5"/>
<circle cx="46.4" cy="233.8" r="1.5"/>
<circle cx="49.6" cy="234.3" r="1.5"/>
<circle cx="53.3" cy="233.5" r="1.5"/>
<circle cx="56.6" cy="234.3" r="1.5"/>
<circle cx="44.8" cy="226.2" r="1.5"/>
<circle cx="48.4" cy="226.0" r="1.5"/>
<circle cx="52.0" cy="226.5" r="1.5"/>
<circle cx="55.4" cy="226.2" r="1.5"/>
<circle cx="60.2" cy="226.6" r="1.5"/>
<circle cx="63.8" cy="226.2" r="1.5"/>
<circle cx="52.0" cy="223.3" r="1.5"/>
<circle cx="47.2" cy="237.0" r="1.5"/>
<circle cx="51.8" cy="236.8" r="1.5"/>
<circle cx="63.2" cy="229.4" r="1.5"/>
<circle cx="61.1" cy="227.3" r="1.5"/>
<circle cx="48.4" cy="235.7" r="1.5"/>
<circle cx="64.6" cy="231.5" r="1.5"/>
<circle cx="44.6" cy="227.4" r="1.5"/>
<circle cx="70.4" cy="228.7" r="1.5"/>
<circle cx="71.3" cy="223.7" r="1.5"/>
<circle cx="52.3" cy="222.9" r="1.5"/>
<circle cx="62.7" cy="236.7" r="1.5"/>
<circle cx="66.0" cy="234.2" r="1.5"/>
<circle cx="58.0" cy="233.7" r="1.5"/>
<circle cx="47.0" cy="226.0" r="1.5"/>
<circle cx="69.3" cy="233.3" r="1.5"/>
<circle cx="59.4" cy="222.5" r="1.5"/>
<circle cx="53.4" cy="224.6" r="1.5"/>
</g>
<g fill="#fff" stroke="#2a2a2a" stroke-width="0.95">
<circle cx="223.7" cy="157.5" r="1.5"/>
<circle cx="226.8" cy="160.7" r="1.5"/>
<circle cx="231.8" cy="158.0" r="1.5"/>
<circle cx="234.1" cy="158.0" r="1.5"/>
<circle cx="236.4" cy="158.0" r="1.5"/>
<circle cx="240.3" cy="158.0" r="1.5"/>
<circle cx="242.2" cy="158.0" r="1.5"/>
<circle cx="244.2" cy="158.0" r="1.5"/>
<circle cx="245.6" cy="158.0" r="1.5"/>
<circle cx="248.9" cy="158.0" r="1.5"/>
<circle cx="243.6" cy="162.9" r="1.5"/>
<circle cx="245.5" cy="166.4" r="1.5"/>
<circle cx="237.3" cy="170.8" r="1.5"/>
<circle cx="240.4" cy="171.4" r="1.5"/>
<circle cx="246.1" cy="170.8" r="1.5"/>
<circle cx="237.9" cy="175.2" r="1.5"/>
<circle cx="238.5" cy="177.7" r="1.5"/>
<circle cx="225.9" cy="174.6" r="1.5"/>
<circle cx="227.8" cy="176.5" r="1.5"/>
<circle cx="246.8" cy="176.5" r="1.5"/>
<circle cx="225.9" cy="181.2" r="1.5"/>
<circle cx="229.0" cy="181.2" r="1.5"/>
<circle cx="243.0" cy="181.5" r="1.5"/>
<circle cx="254.3" cy="157.9" r="1.5"/>
<circle cx="267.0" cy="157.9" r="1.5"/>
<circle cx="274.9" cy="157.9" r="1.5"/>
<circle cx="282.9" cy="157.9" r="1.5"/>
<circle cx="285.7" cy="157.9" r="1.5"/>
<circle cx="256.8" cy="165.1" r="1.5"/>
<circle cx="274.1" cy="165.7" r="1.5"/>
<circle cx="282.2" cy="162.6" r="1.5"/>
<circle cx="253.4" cy="172.0" r="1.5"/>
<circle cx="249.6" cy="174.6" r="1.5"/>
<circle cx="262.9" cy="176.5" r="1.5"/>
<circle cx="256.0" cy="178.4" r="1.5"/>
<circle cx="258.5" cy="180.3" r="1.5"/>
<circle cx="267.4" cy="179.6" r="1.5"/>
<circle cx="292.0" cy="173.3" r="1.5"/>
<circle cx="321.1" cy="160.7" r="1.5"/>
<circle cx="299.6" cy="170.2" r="1.5"/>
<circle cx="224.0" cy="181.9" r="1.5"/>
<circle cx="227.2" cy="180.6" r="1.5"/>
<circle cx="229.7" cy="181.9" r="1.5"/>
<circle cx="228.4" cy="184.4" r="1.5"/>
<circle cx="224.0" cy="184.4" r="1.5"/>
<circle cx="243.0" cy="182.5" r="1.5"/>
<circle cx="243.0" cy="185.7" r="1.5"/>
<circle cx="245.5" cy="186.3" r="1.5"/>
<circle cx="235.4" cy="185.0" r="1.5"/>
<circle cx="237.9" cy="187.0" r="1.5"/>
<circle cx="235.4" cy="188.9" r="1.5"/>
<circle cx="239.2" cy="190.1" r="1.5"/>
<circle cx="229.0" cy="189.5" r="1.5"/>
<circle cx="232.2" cy="190.1" r="1.5"/>
<circle cx="228.4" cy="192.7" r="1.5"/>
<circle cx="231.6" cy="192.7" r="1.5"/>
<circle cx="234.7" cy="192.7" r="1.5"/>
<circle cx="222.5" cy="194.0" r="1.5"/>
<circle cx="246.8" cy="189.5" r="1.5"/>
<circle cx="248.0" cy="192.0" r="1.5"/>
<circle cx="230.3" cy="196.5" r="1.5"/>
<circle cx="234.7" cy="197.7" r="1.5"/>
<circle cx="238.5" cy="197.7" r="1.5"/>
<circle cx="243.0" cy="194.6" r="1.5"/>
<circle cx="225.9" cy="201.5" r="1.5"/>
<circle cx="222.1" cy="204.0" r="1.5"/>
<circle cx="229.7" cy="203.4" r="1.5"/>
<circle cx="231.6" cy="202.2" r="1.5"/>
<circle cx="234.1" cy="200.9" r="1.5"/>
<circle cx="236.6" cy="200.9" r="1.5"/>
<circle cx="228.4" cy="205.3" r="1.5"/>
<circle cx="228.4" cy="207.8" r="1.5"/>
<circle cx="231.6" cy="207.2" r="1.5"/>
<circle cx="237.9" cy="203.4" r="1.5"/>
<circle cx="240.4" cy="204.7" r="1.5"/>
<circle cx="243.6" cy="204.0" r="1.5"/>
<circle cx="246.1" cy="203.4" r="1.5"/>
<circle cx="222.7" cy="210.4" r="1.5"/>
<circle cx="232.2" cy="210.4" r="1.5"/>
<circle cx="237.9" cy="207.2" r="1.5"/>
<circle cx="239.2" cy="209.7" r="1.5"/>
<circle cx="242.3" cy="208.5" r="1.5"/>
<circle cx="244.2" cy="211.6" r="1.5"/>
<circle cx="246.1" cy="208.5" r="1.5"/>
<circle cx="229.7" cy="213.5" r="1.5"/>
<circle cx="232.8" cy="213.2" r="1.5"/>
<circle cx="238.5" cy="213.2" r="1.5"/>
<circle cx="243.0" cy="213.2" r="1.5"/>
<circle cx="258.5" cy="180.6" r="1.5"/>
<circle cx="267.4" cy="180.6" r="1.5"/>
<circle cx="257.2" cy="185.1" r="1.5"/>
<circle cx="257.2" cy="188.2" r="1.5"/>
<circle cx="256.6" cy="191.4" r="1.5"/>
<circle cx="269.9" cy="187.6" r="1.5"/>
<circle cx="250.3" cy="192.7" r="1.5"/>
<circle cx="254.1" cy="192.7" r="1.5"/>
<circle cx="250.3" cy="195.8" r="1.5"/>
<circle cx="254.1" cy="195.2" r="1.5"/>
<circle cx="250.9" cy="199.0" r="1.5"/>
<circle cx="254.7" cy="198.4" r="1.5"/>
<circle cx="256.6" cy="199.6" r="1.5"/>
<circle cx="251.5" cy="202.8" r="1.5"/>
<circle cx="256.0" cy="203.4" r="1.5"/>
<circle cx="264.8" cy="194.6" r="1.5"/>
<circle cx="269.3" cy="194.6" r="1.5"/>
<circle cx="261.7" cy="198.4" r="1.5"/>
<circle cx="271.8" cy="199.0" r="1.5"/>
<circle cx="267.4" cy="201.5" r="1.5"/>
<circle cx="267.4" cy="202.8" r="1.5"/>
<circle cx="287.6" cy="192.7" r="1.5"/>
<circle cx="283.2" cy="202.8" r="1.5"/>
<circle cx="282.5" cy="207.2" r="1.5"/>
<circle cx="280.0" cy="209.4" r="1.5"/>
<circle cx="259.1" cy="206.6" r="1.5"/>
<circle cx="263.6" cy="207.2" r="1.5"/>
<circle cx="259.8" cy="210.4" r="1.5"/>
<circle cx="252.8" cy="209.7" r="1.5"/>
<circle cx="253.4" cy="212.3" r="1.5"/>
<circle cx="250.9" cy="213.2" r="1.5"/>
<circle cx="268.6" cy="213.2" r="1.5"/>
<circle cx="299.6" cy="192.0" r="1.5"/>
<circle cx="307.9" cy="200.9" r="1.5"/>
<circle cx="311.0" cy="207.6" r="1.5"/>
<circle cx="318.9" cy="209.1" r="1.5"/>
<circle cx="317.7" cy="211.6" r="1.5"/>
<circle cx="325.9" cy="207.2" r="1.5"/>
<circle cx="223.4" cy="210.6" r="1.5"/>
<circle cx="228.4" cy="213.5" r="1.5"/>
<circle cx="233.5" cy="211.3" r="1.5"/>
<circle cx="234.7" cy="212.5" r="1.5"/>
<circle cx="239.2" cy="210.6" r="1.5"/>
<circle cx="243.0" cy="211.9" r="1.5"/>
<circle cx="240.4" cy="215.7" r="1.5"/>
<circle cx="243.0" cy="216.3" r="1.5"/>
<circle cx="238.5" cy="214.4" r="1.5"/>
<circle cx="246.8" cy="213.2" r="1.5"/>
<circle cx="223.4" cy="217.0" r="1.5"/>
<circle cx="226.5" cy="218.9" r="1.5"/>
<circle cx="222.7" cy="221.4" r="1.5"/>
<circle cx="225.3" cy="222.7" r="1.5"/>
<circle cx="229.7" cy="222.0" r="1.5"/>
<circle cx="225.3" cy="223.9" r="1.5"/>
<circle cx="235.4" cy="217.6" r="1.5"/>
<circle cx="237.7" cy="221.1" r="1.5"/>
<circle cx="228.4" cy="230.9" r="1.5"/>
<circle cx="246.8" cy="229.0" r="1.5"/>
<circle cx="249.0" cy="210.0" r="1.5"/>
<circle cx="252.8" cy="210.0" r="1.5"/>
<circle cx="250.9" cy="213.2" r="1.5"/>
<circle cx="254.1" cy="213.2" r="1.5"/>
<circle cx="251.5" cy="216.3" r="1.5"/>
<circle cx="252.8" cy="220.1" r="1.5"/>
<circle cx="259.1" cy="210.6" r="1.5"/>
<circle cx="268.6" cy="213.2" r="1.5"/>
<circle cx="261.7" cy="215.7" r="1.5"/>
<circle cx="264.8" cy="218.2" r="1.5"/>
<circle cx="267.4" cy="217.0" r="1.5"/>
<circle cx="271.5" cy="217.8" r="1.5"/>
<circle cx="280.0" cy="210.0" r="1.5"/>
<circle cx="259.1" cy="229.6" r="1.5"/>
<circle cx="287.0" cy="223.3" r="1.5"/>
<circle cx="289.5" cy="220.8" r="1.5"/>
</g>
</svg>
</body></html>
